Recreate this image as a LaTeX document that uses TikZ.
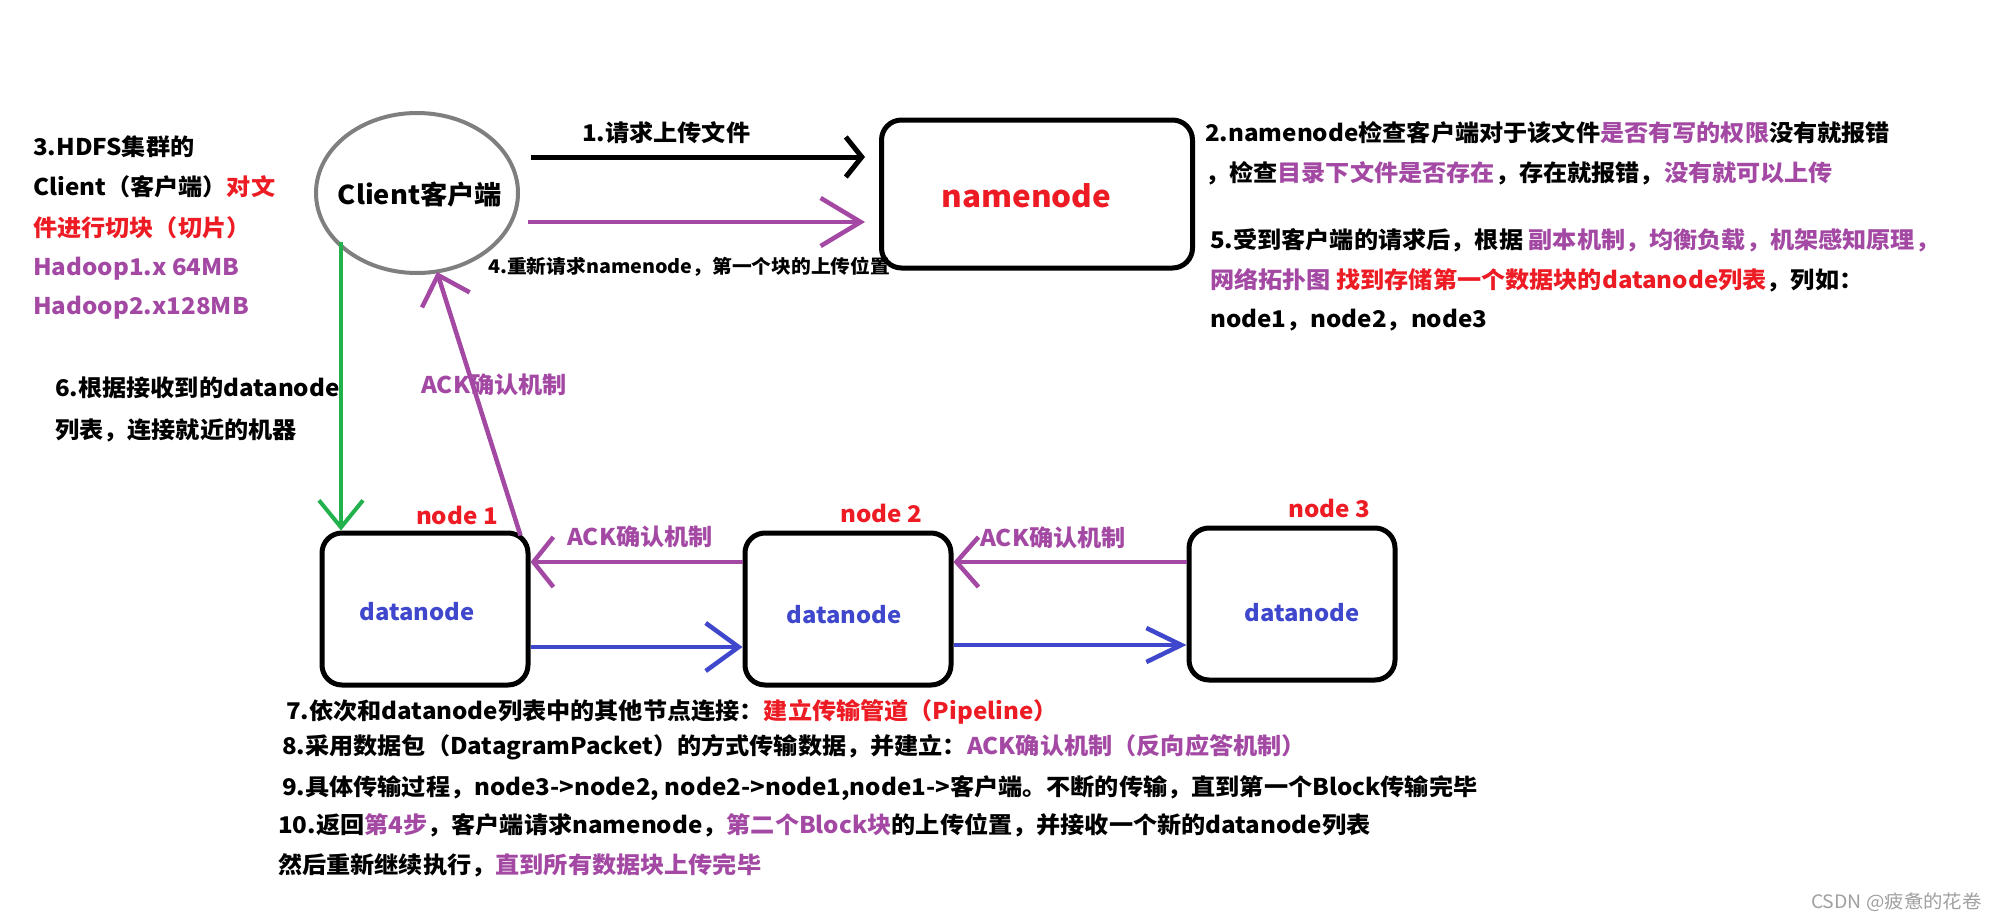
\documentclass[tikz,border=0pt]{standalone}
\usepackage{fontspec}
\setmainfont{Noto Sans CJK SC}[FakeStretch=1.05]
\usetikzlibrary{arrows.meta,shapes.geometric,calc}
\definecolor{cred}{HTML}{ED1C24}
\definecolor{cpur}{HTML}{A349A4}
\definecolor{cblue}{HTML}{3F48CC}
\definecolor{cgreen}{HTML}{22B14C}
\definecolor{cgray}{HTML}{7F7F7F}
\definecolor{cwm}{HTML}{A0A0A0}
\newcommand{\fsz}[1]{\fontsize{#1}{#1}\selectfont}
\begin{document}
\begin{tikzpicture}[x=1pt,y=-1pt,
  txt/.style={anchor=west,inner sep=0pt,font=\bfseries\fsz{23}},
  lbl/.style={anchor=center,inner sep=0pt,font=\bfseries\fsz{23}},
  box/.style={draw=black,line width=5pt,rounded corners=20pt,minimum width=206pt,minimum height=152pt,inner sep=0pt},
  dntext/.style={inner sep=0pt,text=cblue,font=\bfseries\fsz{22.7}},
  ackarrow/.style={draw=cpur,line width=4.5pt},
  blarrow/.style={draw=cblue,line width=4.5pt}]
\useasboundingbox[fill=white] (0,0) rectangle (1997,921);

% main nodes
\node[ellipse,draw=cgray,line width=4pt,minimum width=202pt,minimum height=160pt,inner sep=0pt,
  label={[inner sep=0pt,font=\bfseries\fsz{26},xshift=3pt,yshift=-2pt]center:Client客户端}] (client) at (417,193) {};
\node[box,minimum width=311pt,minimum height=148pt,
  label={[inner sep=0pt,text=cred,font=\bfseries\fsz{30},xshift=-10.5pt,yshift=-2pt]center:namenode}] (nn) at (1037,194) {};
\node[box,label={[dntext,xshift=-8pt,yshift=-3pt]center:datanode}] (dn1) at (425,609) {};
\node[box,label={[dntext,xshift=-4pt,yshift=-6pt]center:datanode}] (dn2) at (848,609) {};
\node[box,label={[dntext,xshift=10pt,yshift=-8.5pt]center:datanode}] (dn3) at (1292,604) {};

% connectors
\coordinate (a1) at (531,157);
\coordinate (a4) at (528,222);
\coordinate (g0) at (341,242);
\coordinate (yk) at (0,562);
\coordinate (yb1) at (0,647);
\coordinate (yb2) at (0,645);
\draw[line width=5pt,-{Straight Barb[length=16pt,width=40pt]},shorten >=14pt] (a1) -- (nn.west |- a1);
\draw[draw=cpur,line width=4.5pt,-{Straight Barb[length=40pt,width=48pt]},shorten >=14pt] (a4) -- (nn.west |- a4);
\draw[draw=cgreen,line width=4pt,-{Straight Barb[length=27pt,width=44pt]}] (g0) -- (g0 |- dn1.north);
\draw[ackarrow,-{Straight Barb[length=26pt,width=50pt]}] ($(dn1.north east)+(-10,5)$) -- ($(client.south)+(20,-3)$);
\draw[ackarrow,-{Straight Barb[length=20pt,width=50pt]}] (dn2.west |- yk) -- (dn1.east |- yk);
\draw[ackarrow,-{Straight Barb[length=22pt,width=50pt]}] (dn3.west |- yk) -- (dn2.east |- yk);
\draw[blarrow,-{Straight Barb[length=33pt,width=48pt]}] (dn1.east |- yb1) -- (dn2.west |- yb1);
\draw[blarrow,-{Straight Barb[length=35pt,width=34pt]}] (dn2.east |- yb2) -- (dn3.west |- yb2);

% labels on connectors
\node[txt] (t1) at (582,133) {1.请求上传文件};
\node[txt,font=\bfseries\fsz{18.8}] (t4) at (488,267) {4.重新请求namenode，第一个块的上传位置};
\node[lbl,text=cpur] (k0) at (494,385) {ACK确认机制};
\node[lbl,text=cpur] (k1) at (640,537) {ACK确认机制};
\node[lbl,text=cpur] (k2) at (1053,538) {ACK确认机制};
\node[lbl,text=cred] (n1) at (457,515) {node 1};
\node[lbl,text=cred] (n2) at (881,513) {node 2};
\node[lbl,text=cred] (n3) at (1329,508) {node 3};

% left block
\node[txt] (l3a) at (33,147) {3.HDFS集群的};
\node[txt] (l3b) at (33,187) {Client（客户端）\textcolor{cred}{对文}};
\node[txt,text=cred] (l3c) at (33,228) {件进行切块（切片）};
\node[txt,text=cpur] (l3d) at (33,269) {Hadoop1.x 64MB};
\node[txt,text=cpur] (l3e) at (33,308) {Hadoop2.x128MB};
\node[txt] (l6a) at (55,388) {6.根据接收到的datanode};
\node[txt] (l6b) at (55,430) {列表，连接就近的机器};

% right block
\node[txt] (r1) at (1205,133) {2.namenode检查客户端对于该文件\textcolor{cpur}{是否有写的权限}没有就报错};
\node[txt] (r2) at (1205,173) {，检查\textcolor{cpur}{目录下文件是否存在}，存在就报错，\textcolor{cpur}{没有就可以上传}};
\node[txt] (r3) at (1210,240) {5.受到客户端的请求后，根据 \textcolor{cpur}{副本机制，均衡负载，机架感知原理，}};
\node[txt] (r4) at (1210,280) {\textcolor{cpur}{网络拓扑图} \textcolor{cred}{找到存储第一个数据块的datanode列表}，列如：};
\node[txt] (r5) at (1210,320) {node1，node2，node3};

% bottom block
\node[txt] (b7) at (286,712) {7.依次和datanode列表中的其他节点连接：\textcolor{cred}{建立传输管道（Pipeline）}};
\node[txt] (b8) at (282,747) {8.采用数据包（DatagramPacket）的方式传输数据，并建立：\textcolor{cpur}{ACK确认机制（反向应答机制）}};
\node[txt] (b9) at (282,788) {9.具体传输过程，node3->node2, node2->node1,node1->客户端。不断的传输，直到第一个Block传输完毕};
\node[txt] (b10) at (278,825) {10.返回\textcolor{cpur}{第4步}，客户端请求namenode，\textcolor{cpur}{第二个Block块}的上传位置，并接收一个新的datanode列表};
\node[txt] (b11) at (278,865) {然后重新继续执行，\textcolor{cpur}{直到所有数据块上传完毕}};

\node[anchor=east,inner sep=0pt,text=cwm,font=\fsz{18.5}] (wm) at (1982,902) {CSDN @疲惫的花卷};
\end{tikzpicture}
\end{document}
